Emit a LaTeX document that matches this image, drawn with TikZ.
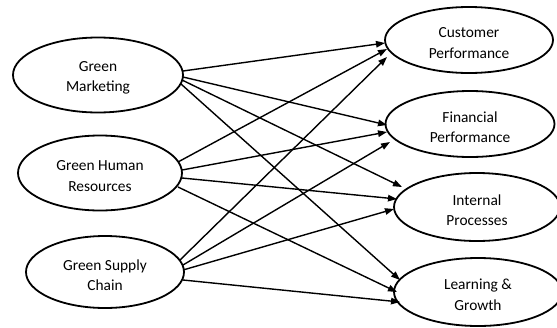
\documentclass[tikz,border=0pt]{standalone}
\usepackage{fontspec}
\setmainfont{Carlito}
\usetikzlibrary{arrows.meta,calc,shapes.geometric}
\begin{document}
\begin{tikzpicture}[x=1pt,y=-1pt,
  oval/.style={ellipse, draw=black, line width=1.8pt, inner sep=0pt},
  lbl/.style={align=center, inner sep=0pt, text=black, font=\fontsize{15.4}{20.5}\selectfont},
  arr/.style={line width=1.4pt, draw=black, -{Triangle[length=9pt,width=6.5pt]}}]
\useasboundingbox (0,0) rectangle (557,327);
% sources
\node[oval, minimum width=170pt, minimum height=75pt] (gm) at (98,75) {};
\node[oval, minimum width=164pt, minimum height=75pt] (ghr) at (100,173) {};
\node[oval, minimum width=158pt, minimum height=72pt] (gsc) at (105,272) {};
\node[lbl] (gmt) at ($(gm.center)+(0,3)$) {Green\\Marketing};
\node[lbl] (ghrt) at ($(ghr.center)+(0,3)$) {Green Human\\Resources};
\node[lbl] (gsct) at ($(gsc.center)+(0,3)$) {Green Supply\\Chain};
% targets
\node[oval, minimum width=168pt, minimum height=66pt] (cp) at (469,40) {};
\node[oval, minimum width=169pt, minimum height=66pt] (fp) at (470,124) {};
\node[oval, minimum width=166pt, minimum height=68pt] (ip) at (477,207) {};
\node[oval, minimum width=168pt, minimum height=68pt] (lg) at (478,292) {};
\node[lbl] (cpt) at ($(cp.center)+(0,3)$) {Customer\\Performance};
\node[lbl] (fpt) at ($(fp.center)+(0,3)$) {Financial\\Performance};
\node[lbl] (ipt) at ($(ip.center)+(0,3)$) {Internal\\Processes};
\node[lbl] (lgt) at ($(lg.center)+(0,3)$) {Learning \&\\Growth};
% Green Marketing
\draw[arr] ($(gm.center)+(85,-4)$) -- ($(cp.center)+(-84,3)$);
\draw[arr] ($(gm.center)+(85,2)$) -- ($(fp.center)+(-83,1)$);
\draw[arr] ($(gm.center)+(84,5)$) -- ($(ip.center)+(-75,-20)$);
\draw[arr] ($(gm.center)+(83,9)$) -- ($(lg.center)+(-78,-12)$);
% Green Human Resources
\draw[arr] ($(ghr.center)+(78,-11)$) -- ($(cp.center)+(-82,9)$);
\draw[arr] ($(ghr.center)+(82,-3)$) -- ($(fp.center)+(-83,8)$);
\draw[arr] ($(ghr.center)+(82,5)$) -- ($(ip.center)+(-80,-8)$);
\draw[arr] ($(ghr.center)+(78,14)$) -- ($(lg.center)+(-81,0)$);
% Green Supply Chain
\draw[arr] ($(gsc.center)+(75,-12)$) -- ($(cp.center)+(-82,17)$);
\draw[arr] ($(gsc.center)+(78,-7)$) -- ($(fp.center)+(-80,18)$);
\draw[arr] ($(gsc.center)+(78,-2)$) -- ($(ip.center)+(-83,2)$);
\draw[arr] ($(gsc.center)+(78,8)$) -- ($(lg.center)+(-78,10)$);
\end{tikzpicture}
\end{document}
